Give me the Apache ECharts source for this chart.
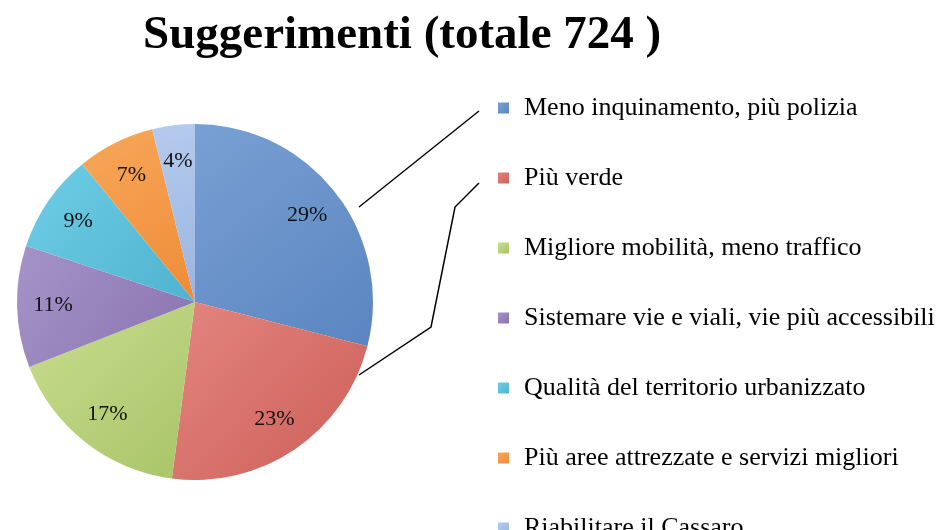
<html lang="it">
<head>
    <meta charset="UTF-8">
    <title>Suggerimenti</title>
    <style>
        html, body { margin: 0; padding: 0; background: #fff; }
        #echart { width: 951px; height: 530px; }
    </style>
</head>
<body>
    <div id="echart"></div>
    <script src="https://cdn.jsdelivr.net/npm/echarts@6/dist/echarts.min.js"></script>
    <script>
        // dati (totale 724)
        const categorie = [
            'Meno inquinamento, più polizia',
            'Più verde',
            'Migliore mobilità, meno traffico',
            'Sistemare vie e viali, vie più accessibili',
            'Qualità del territorio urbanizzato',
            'Più aree attrezzate e servizi migliori',
            'Riabilitare il Cassaro'
        ]
        const valori = [210, 167, 123, 80, 65, 51, 28]
        const colori = ['#79a0d4', '#e3857f', '#c8dd8e', '#a594c8', '#6fcde6', '#f8a75a', '#b5cbee']
        const coloriScuri = ['#5a85c0', '#cc5f58', '#a9c468', '#8a72b0', '#4fb3cf', '#ee8c37', '#9ab5e0']

        const echart = echarts.init(document.getElementById('echart'))

        const dati = categorie.map((nome, i) => ({
            name: nome,
            value: valori[i],
            itemStyle: {
                color: new echarts.graphic.LinearGradient(0, 0, 1, 1, [
                    { offset: 0, color: colori[i] },
                    { offset: 1, color: coloriScuri[i] }
                ])
            }
        }))

        echart.setOption({
            animation: false,
            title: {
                text: 'Suggerimenti (totale 724 )',
                left: 143,
                top: 12,
                padding: 0,
                textStyle: {
                    fontFamily: 'Liberation Serif',
                    fontWeight: 'bold',
                    fontSize: 47,
                    color: '#000'
                }
            },
            legend: {
                orient: 'vertical',
                left: 493,
                top: 88,
                height: 480,
                icon: 'rect',
                itemWidth: 11,
                itemHeight: 11,
                itemGap: 40,
                data: categorie,
                textStyle: {
                    fontFamily: 'Liberation Serif',
                    fontSize: 26,
                    lineHeight: 30,
                    color: '#000',
                    padding: [0, 0, 0, 10]
                }
            },
            color: colori,
            series: [
                {
                    type: 'pie',
                    center: [195, 302],
                    radius: [0, 178],
                    startAngle: 90,
                    data: dati,
                    label: { show: false },
                    labelLine: { show: false },
                    itemStyle: { borderWidth: 0 },
                    emphasis: { disabled: true }
                },
                {
                    // serie trasparente solo per posizionare le percentuali
                    type: 'pie',
                    center: [195, 302],
                    radius: [100, 178],
                    startAngle: 90,
                    silent: true,
                    data: categorie.map((nome, i) => ({ name: nome, value: valori[i] })),
                    itemStyle: { color: 'rgba(0,0,0,0)' },
                    label: {
                        show: true,
                        position: 'inside',
                        formatter: p => Math.round(p.percent) + '%',
                        fontFamily: 'Liberation Serif',
                        fontSize: 22,
                        color: '#111'
                    },
                    labelLine: { show: false },
                    emphasis: { disabled: true }
                }
            ],
            graphic: [
                {
                    type: 'polyline',
                    shape: { points: [[359, 207], [479, 111]] },
                    style: { stroke: '#000', lineWidth: 1.5, fill: null }
                },
                {
                    type: 'polyline',
                    shape: { points: [[359, 375], [431, 327], [455, 207], [479, 183]] },
                    style: { stroke: '#000', lineWidth: 1.5, fill: null }
                }
            ]
        })
    </script>
</body>
</html>
